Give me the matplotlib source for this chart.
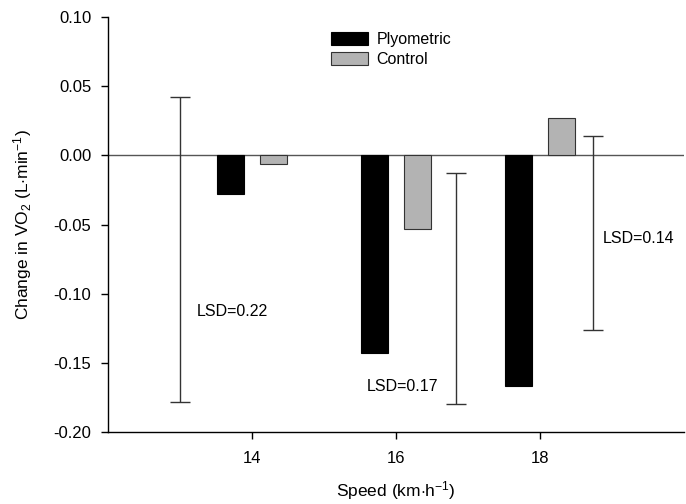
import numpy as np
import matplotlib
matplotlib.use("Agg")
import matplotlib.pyplot as plt

plt.rcParams['font.family'] = ['Liberation Sans', 'DejaVu Sans']
plt.rcParams['mathtext.fontset'] = 'custom'
plt.rcParams['mathtext.rm'] = 'Liberation Sans'
plt.rcParams['mathtext.it'] = 'Liberation Sans:italic'

# data
speeds = [14, 16, 18]
plyometric = [-0.028, -0.143, -0.167]
control = [-0.006, -0.053, 0.027]

# LSD bars: x position, lower and upper end
lsd_x = [13.0, 16.83, 18.73]
lsd_lo = [-0.178, -0.180, -0.126]
lsd_hi = [0.042, -0.013, 0.014]
lsd_labels = ["LSD=0.22", "LSD=0.17", "LSD=0.14"]
lsd_text_pos = [(13.23, -0.113), (15.6, -0.167), (18.87, -0.060)]

fig = plt.figure(figsize=(6.86, 5.04), dpi=100)
ax = fig.add_axes([108/686, 1-432/504, 576/686, 415/504])

x = np.array(speeds, dtype=float)
w = 0.37
ax.bar(x - 0.3, plyometric, w, color='black', edgecolor='black', linewidth=0.8, label='Plyometric')
ax.bar(x + 0.3, control, w, color='#b3b3b3', edgecolor='#333333', linewidth=0.8, label='Control')

ax.axhline(0, color='#555555', lw=1.0, zorder=0)

lo = np.array(lsd_lo)
hi = np.array(lsd_hi)
mid = (lo + hi) / 2
ax.errorbar(lsd_x, mid, yerr=(hi - lo) / 2, fmt='none', ecolor='#333333',
            elinewidth=1.0, capsize=7.5, capthick=1.0)
for lab, (tx, ty) in zip(lsd_labels, lsd_text_pos):
    ax.text(tx, ty, lab, fontsize=11.5, ha='left', va='center')

yt = [-0.20, -0.15, -0.10, -0.05, 0.00, 0.05, 0.10]
ax.set_xlim(12, 20)
ax.set_ylim(-0.2, 0.1)
ax.set_xticks(speeds)
ax.set_yticks(yt)
ax.set_yticklabels([f"{v:.2f}" for v in yt])
ax.tick_params(direction='out', length=5, width=1, labelsize=12)
ax.tick_params(axis='x', pad=9)
ax.tick_params(axis='y', pad=7)
for s in ['top', 'right']:
    ax.spines[s].set_visible(False)
for s in ['left', 'bottom']:
    ax.spines[s].set_linewidth(1.0)

ax.set_ylabel(r"Change in VO$_2$ (L$\cdot$min$^{-1}$)", fontsize=12.5, labelpad=14)
ax.set_xlabel(r"Speed (km$\cdot$h$^{-1}$)", fontsize=12.5, labelpad=9)

ax.legend(loc='upper left', bbox_to_anchor=(320/686, 1-21/504), bbox_transform=fig.transFigure,
          frameon=False, fontsize=11.5, handlelength=2.3, handleheight=0.85,
          labelspacing=0.3, handletextpad=0.55, borderpad=0.2)

fig.savefig("out.png", dpi=100)
